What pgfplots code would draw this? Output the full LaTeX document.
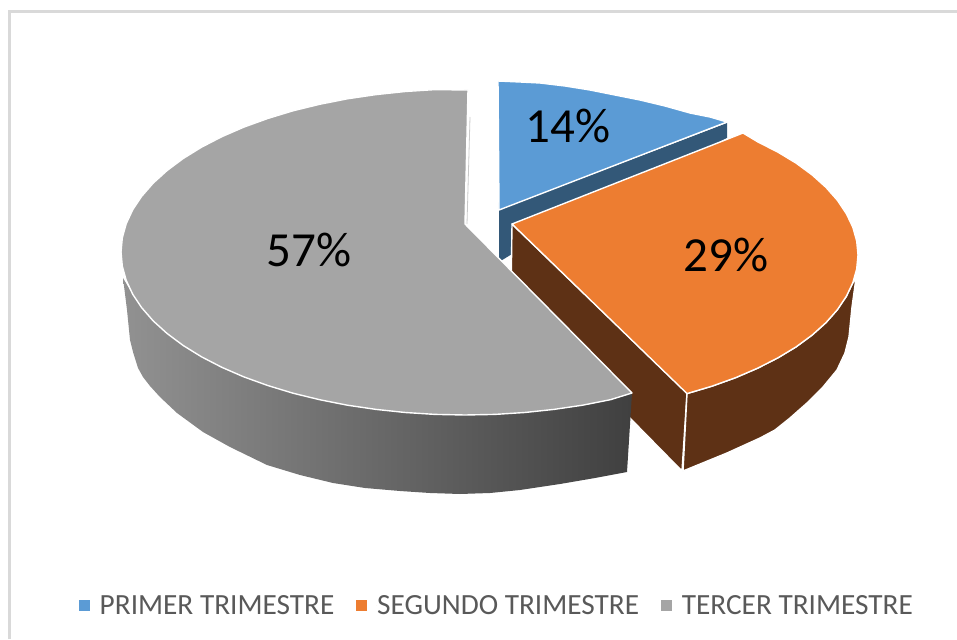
\documentclass[border=0pt]{standalone}
\usepackage{pgfplots}
\pgfplotsset{compat=1.18}
\usepackage{fontspec}
\setmainfont{Carlito}
\definecolor{azul}{HTML}{5B9BD5}
\definecolor{azulosc}{HTML}{335878}
\definecolor{naranja}{HTML}{ED7D31}
\definecolor{marron}{HTML}{5E3115}
\definecolor{gris}{HTML}{A5A5A5}
\definecolor{marco}{HTML}{D9D9D9}
\definecolor{texto}{HTML}{595959}

\begin{document}
\begin{tikzpicture}
\useasboundingbox (0,0) rectangle (957pt,639pt);
\begin{axis}[
    scale only axis,
    width=957pt, height=639pt,
    xmin=0, xmax=957, ymin=0, ymax=639,
    y dir=reverse,
    axis lines=none,
    legend columns=3,
    legend cell align=left,
    legend image code/.code={
        \path[#1,draw=none] (0pt,-5.5pt) rectangle (11pt,5.5pt);
        \path (11pt,0pt) -- (20pt,0pt);
    },
    legend style={
        at={(axis cs:79,605.5)}, anchor=west,
        draw=none, fill=none, inner sep=0pt, outer sep=0pt,
        text=texto,
        font=\fontsize{29.3}{31}\selectfont,
        /tikz/every even column/.append style={column sep=22pt},
        nodes={inner sep=0pt, outer sep=0pt},
    },
    faces/.style={draw=white, line width=1.4pt, line join=round},
]

% marco
\addplot[marco, line width=2.2pt, forget plot] coordinates {(9.5,639) (9.5,11.5) (957,11.5)};

% primer trimestre
\addplot[fill=azulosc, draw=none, forget plot] coordinates {
    (499,210) (727,123) (727,138) (600,200) (499,262)
} --cycle;
\addplot[faces, fill=azul] coordinates {
    (498,81) (520,82) (540,83) (565,86) (590,90) (615,95) (640,100) (665,106)
    (690,113) (710,117) (727,122) (499,210)
} --cycle;
\addlegendentry{PRIMER TRIMESTRE}

% segundo trimestre
\addplot[faces, fill=marron, forget plot] coordinates {
    (512,224) (687,393) (682,471) (511,297)
} --cycle;
\addplot[faces, fill=marron, forget plot] coordinates {
    (687,393.6) (712.2,386.1) (735.8,377.6) (757.8,368.1) (778,357.8) (796.2,346.8)
    (812.2,335) (826,322.6) (837.4,309.7) (846.3,296.4) (852.8,282.8) (856,278)
    (852,307) (849,337) (845,353) (837,370) (823,387) (807,403) (790,418) (775,430)
    (760,438) (727,453) (683,471)
} --cycle;
\addplot[faces, fill=naranja] coordinates {
    (512,224) (743,133) (757.8,141.9) (778,152.2) (796.2,163.2) (812.2,175) (826,187.4)
    (837.4,200.3) (846.3,213.6) (852.8,227.2) (856.7,241.1) (858,255) (856.7,268.9)
    (852.8,282.8) (846.3,296.4) (837.4,309.7) (826,322.6) (812.2,335) (796.2,346.8)
    (778,357.8) (757.8,368.1) (735.8,377.6) (712.2,386.1) (687,393.6)
} --cycle;
\addlegendentry{SEGUNDO TRIMESTRE}

% tercer trimestre
\addplot[gris!60, line width=0.8pt, forget plot] coordinates {(470,117) (467,224)};
\addplot[draw=none, left color=black!43, middle color=black!60, right color=black!75, forget plot] coordinates {
    (123,278) (127,310) (130,340) (133,352) (138,368) (143,377) (150,386) (160,397)
    (177,413) (203,432) (230,447) (267,465) (300,475) (333,483) (365,488) (400,491)
    (430,493) (460,494) (490,493) (520,490) (560,484) (595,478) (627,472) (632,393)
    (610.4,399.7) (582.6,405.2) (554,409.4) (524.7,412.5) (495,414.4) (465,415)
    (435,414.4) (405.3,412.5) (376,409.4) (347.4,405.2) (319.6,399.7) (293,393.2)
    (267.7,385.5) (243.9,376.9) (221.8,367.3) (201.5,356.8) (183.2,345.5) (167.1,333.5)
    (153.2,320.9) (141.7,307.7) (132.7,294.2)
} --cycle;
\addplot[faces, fill=gris] coordinates {
    (468,90) (435,89.6) (405.3,91.5) (376,94.6) (347.4,98.8) (319.6,104.3) (293,110.8)
    (267.7,118.5) (243.9,127.1) (221.8,136.7) (201.5,147.2) (183.2,158.5) (167.1,170.5)
    (153.2,183.1) (141.7,196.3) (132.7,209.8) (126.2,223.7) (122.3,237.8) (121,252)
    (122.3,266.2) (126.2,280.3) (132.7,294.2) (141.7,307.7) (153.2,320.9) (167.1,333.5)
    (183.2,345.5) (201.5,356.8) (221.8,367.3) (243.9,376.9) (267.7,385.5) (293,393.2)
    (319.6,399.7) (347.4,405.2) (376,409.4) (405.3,412.5) (435,414.4) (465,415)
    (495,414.4) (524.7,412.5) (554,409.4) (582.6,405.2) (610.4,399.7) (632,393) (465,224)
} --cycle;
\addlegendentry{TERCER TRIMESTRE}

\node[font=\fontsize{49}{51}\selectfont] at (axis cs:568,126) {14\%};
\node[font=\fontsize{49}{51}\selectfont] at (axis cs:726,255) {29\%};
\node[font=\fontsize{49}{51}\selectfont] at (axis cs:309,250) {57\%};
\end{axis}
\end{tikzpicture}
\end{document}
